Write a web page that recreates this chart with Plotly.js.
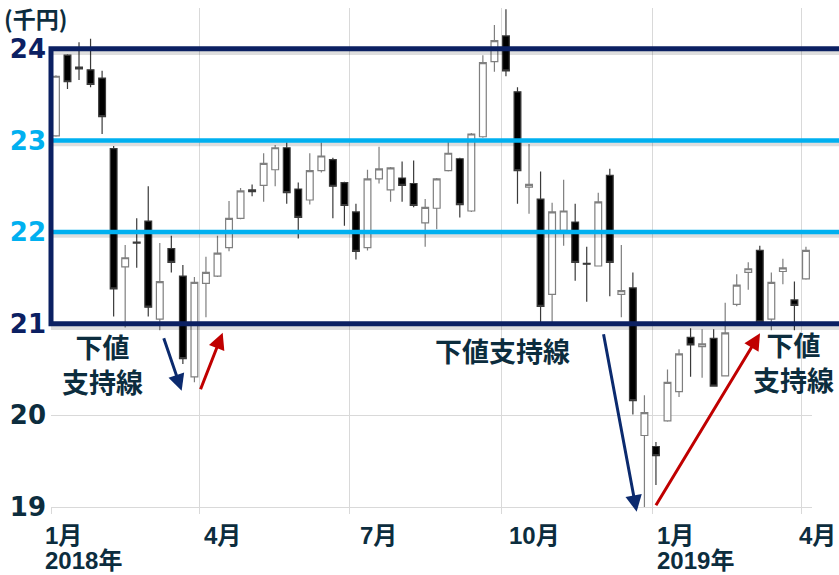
<!DOCTYPE html>
<html><head><meta charset="utf-8">
<script src="https://cdn.plot.ly/plotly-3.0.1.min.js"></script>
<style>html,body{margin:0;padding:0;background:#fff;} #chart{width:839px;height:575px;}</style>
</head><body><div id="chart"></div>
<script>
// ---- data (weekly candles, thousand yen) ----
const weeks = [
 '2018-01-04','2018-01-11','2018-01-18','2018-01-25','2018-02-01','2018-02-08','2018-02-15','2018-02-22',
 '2018-03-01','2018-03-08','2018-03-15','2018-03-22','2018-03-29','2018-04-05','2018-04-12','2018-04-19',
 '2018-04-26','2018-05-03','2018-05-10','2018-05-17','2018-05-24','2018-05-31','2018-06-07','2018-06-14',
 '2018-06-21','2018-06-28','2018-07-05','2018-07-12','2018-07-19','2018-07-26','2018-08-02','2018-08-09',
 '2018-08-16','2018-08-23','2018-08-30','2018-09-06','2018-09-13','2018-09-20','2018-09-27','2018-10-04',
 '2018-10-11','2018-10-18','2018-10-25','2018-11-01','2018-11-08','2018-11-15','2018-11-22','2018-11-29',
 '2018-12-06','2018-12-13','2018-12-20','2018-12-27','2019-01-03','2019-01-10','2019-01-17','2019-01-24',
 '2019-01-31','2019-02-07','2019-02-14','2019-02-21','2019-02-28','2019-03-07','2019-03-14','2019-03-21',
 '2019-03-28','2019-04-04'];
const openV = [23.05,23.93,23.80,23.77,23.68,22.91,21.62,21.89,22.12,21.05,21.82,21.52,20.42,21.44,21.52,21.83,
 22.15,22.46,22.51,22.68,22.92,22.47,22.35,22.67,22.79,22.54,22.22,21.83,22.58,22.46,22.59,22.53,
 22.10,22.26,22.67,22.80,22.23,23.04,23.86,24.14,23.53,22.49,22.36,21.32,22.02,22.11,21.66,21.63,
 22.62,21.32,21.39,19.78,19.66,19.94,20.26,20.85,20.75,20.84,20.43,21.21,21.56,21.80,21.05,21.57,
 21.26,21.49];
const highV = [23.71,23.94,24.07,24.11,23.76,22.94,21.86,22.15,22.50,21.88,21.96,21.64,21.51,21.73,21.96,22.34,
 22.48,22.52,22.86,22.95,22.98,22.54,22.86,22.98,22.81,22.55,22.31,22.68,22.93,22.71,22.77,22.78,
 22.36,22.59,22.99,22.81,23.08,23.93,24.26,24.43,23.58,22.96,22.66,22.32,22.57,22.31,21.84,22.43,
 22.69,21.86,21.56,20.22,19.71,20.50,20.72,20.95,20.94,20.94,21.23,21.54,21.67,21.85,21.56,21.71,
 21.46,21.84];
const lowV = [23.04,23.56,23.66,23.58,23.07,21.08,20.96,21.61,21.08,20.93,21.56,20.56,20.36,21.07,21.51,21.79,
 22.14,22.39,22.33,22.50,22.31,21.93,22.30,22.65,22.15,22.07,21.70,21.80,22.53,22.33,22.33,22.27,
 21.84,22.03,22.66,22.16,22.22,23.03,23.75,23.70,22.31,22.20,21.02,21.01,21.85,21.47,21.24,21.63,
 21.30,21.07,20.01,19.00,19.24,19.93,20.20,20.42,20.41,20.32,20.43,21.19,21.37,21.01,20.93,21.43,
 20.93,21.48];
const closeV = [23.70,23.64,23.78,23.61,23.26,21.38,21.72,21.88,21.18,21.46,21.67,20.62,21.45,21.56,21.77,22.15,
 22.45,22.44,22.75,22.92,22.43,22.16,22.67,22.83,22.50,22.29,21.79,22.58,22.69,22.70,22.51,22.29,
 22.27,22.58,22.86,22.30,23.07,23.85,24.09,23.76,22.67,22.52,21.19,22.22,22.23,21.67,21.65,22.33,
 21.67,21.36,20.16,20.03,19.56,20.36,20.67,20.77,20.78,20.32,20.90,21.42,21.60,21.02,21.45,21.61,
 21.20,21.80];
const yTickVals = [19,20,21,22,23,24];
const yTickLabels = ['19','20','21','22','23','24'];
const monthTickVals = ['2018-01-01','2018-04-01','2018-07-01','2018-10-01','2019-01-01','2019-04-01'];
const monthLabels = ['1月','4月','7月','10月','1月','4月'];
const yearTickVals = ['2018-01-01','2019-01-01'];
const yearLabels = ['2018年','2019年'];
const supportLevel = 21;
const boxTop = 24;
const midLines = [22, 23];
const unitLabel = '(千円)';
const supportText = '下値支持線';

// ---- styling ----
const DARK = '#0c2d3e', NAVY = '#0b2062', CYAN = '#00b0f0', RED = '#c00000', ARROWNAVY = '#0b2a6e';
const yLabelColors = {19: DARK, 20: DARK, 21: NAVY, 22: CYAN, 23: CYAN, 24: NAVY};
const monthShift = [-7, 4, 10, 7, 3, -3];
const yearShift = [-7, 3];
const JP = '"Noto Sans CJK JP", sans-serif';
const XF = '"Liberation Sans", "Noto Sans CJK JP", sans-serif';
const H = 575, PLOT_BOTTOM = 507, PLOT_H = 499;
const py = px => (PLOT_BOTTOM - px) / PLOT_H;   // pixel row -> paper y

const trace = {
  type: 'candlestick', x: weeks, open: openV, high: highV, low: lowV, close: closeV,
  increasing: {line: {color: '#7f7f7f', width: 1.2}, fillcolor: '#ffffff'},
  decreasing: {line: {color: '#3a3a3a', width: 1.2}, fillcolor: '#000000'},
  whiskerwidth: 0, hoverinfo: 'skip', showlegend: false
};

const annotations = [];
monthTickVals.forEach((d, i) => annotations.push({
  xref: 'x', yref: 'paper', x: d, y: py(535), xanchor: 'left', yanchor: 'middle', xshift: monthShift[i],
  borderpad: 0, text: monthLabels[i], showarrow: false, font: {family: XF, size: 24, color: DARK, weight: 'bold'}
}));
yearTickVals.forEach((d, i) => annotations.push({
  xref: 'x', yref: 'paper', x: d, y: py(H), xanchor: 'left', yanchor: 'bottom', xshift: yearShift[i],
  borderpad: 0, text: yearLabels[i], showarrow: false, font: {family: XF, size: 24, color: DARK, weight: 'bold'}
}));
annotations.push({xref: 'paper', yref: 'paper', x: -0.063, y: py(0), xanchor: 'left', yanchor: 'top',
  borderpad: 0, text: unitLabel, showarrow: false, font: {family: JP, size: 23, color: DARK, weight: 'bold'}});
const twoLine = supportText.slice(0, 2) + '<br>' + supportText.slice(2);
annotations.push({xref: 'paper', yref: 'paper', x: 0.0677, y: 0.2856, xanchor: 'center', yanchor: 'middle',
  text: twoLine, showarrow: false, font: {family: JP, size: 27, color: DARK, weight: 'bold'}});
annotations.push({xref: 'paper', yref: 'paper', x: 0.5933, y: 0.3136, xanchor: 'center', yanchor: 'middle',
  text: supportText, showarrow: false, font: {family: JP, size: 27, color: DARK, weight: 'bold'}});
annotations.push({xref: 'paper', yref: 'paper', x: 0.9763, y: 0.2906, xanchor: 'center', yanchor: 'middle',
  text: twoLine, showarrow: false, font: {family: JP, size: 27, color: DARK, weight: 'bold'}});
// arrows
const arrows = [
  {x: 0.1717, y: 0.2331, ax: -18.4, ay: -54, c: ARROWNAVY},
  {x: 0.2256, y: 0.3493, ax: -22.7, ay: 58, c: RED},
  {x: 0.7696, y: -0.0094, ax: -33.4, ay: -179, c: ARROWNAVY},
  {x: 0.9317, y: 0.3481, ax: -105, ay: 173.4, c: RED}
];
arrows.forEach(a => annotations.push({xref: 'paper', yref: 'paper', x: a.x, y: a.y, ax: a.ax, ay: a.ay,
  axref: 'pixel', ayref: 'pixel', text: '', showarrow: true, arrowhead: 2, arrowsize: 1.1, arrowwidth: 3,
  arrowcolor: a.c, standoff: 0, startstandoff: 0}));

const shapes = [];
const shadow = 'rgba(0,0,0,0.13)';
midLines.forEach(v => shapes.push({type: 'line', xref: 'paper', yref: 'y', x0: 0, x1: 1.1, y0: v - 0.035, y1: v - 0.035,
  line: {color: shadow, width: 5}}));
shapes.push({type: 'line', xref: 'paper', yref: 'y', x0: 0, x1: 1.1, y0: boxTop - 0.035, y1: boxTop - 0.035, line: {color: shadow, width: 6}});
shapes.push({type: 'line', xref: 'paper', yref: 'y', x0: 0, x1: 1.1, y0: supportLevel - 0.035, y1: supportLevel - 0.035, line: {color: shadow, width: 6}});
midLines.forEach(v => shapes.push({type: 'line', xref: 'paper', yref: 'y', x0: 0, x1: 1.1, y0: v, y1: v,
  line: {color: CYAN, width: 4.5}}));
shapes.push({type: 'rect', xref: 'paper', yref: 'y', x0: 0, x1: 1.1, y0: supportLevel, y1: boxTop,
  line: {color: NAVY, width: 5}, fillcolor: 'rgba(0,0,0,0)'});

const layout = {
  width: 839, height: 575,
  margin: {l: 51, r: 27, t: 8, b: 68},
  paper_bgcolor: '#ffffff', plot_bgcolor: '#ffffff',
  showlegend: false, hovermode: false, boxgap: 0.16,
  xaxis: {
    type: 'date', range: ['2018-01-01', '2019-04-07 16:00'],
    tick0: '2018-01-01', dtick: 'M3', showticklabels: false,
    showgrid: true, gridcolor: '#d9d9d9', gridwidth: 1,
    ticks: 'outside', ticklen: 6, tickcolor: '#d9d9d9', tickwidth: 1,
    showline: true, linecolor: '#d9d9d9', linewidth: 1,
    rangeslider: {visible: false}, zeroline: false, fixedrange: true
  },
  yaxis: {
    range: [19, 24.445], tickmode: 'array', tickvals: yTickVals,
    ticktext: yTickVals.map((v, i) => '<span style="color:' + yLabelColors[v] + '">' + yTickLabels[i] + '</span>'),
    tickfont: {family: '"DejaVu Sans", sans-serif', size: 26, color: DARK, weight: 'bold'},
    showgrid: true, gridcolor: '#d9d9d9', gridwidth: 1, zeroline: false, ticks: '',
    ticklabelstandoff: 4, fixedrange: true
  },
  shapes: shapes,
  annotations: annotations
};

Plotly.newPlot('chart', [trace], layout, {displayModeBar: false, staticPlot: true});
</script>
</body></html>
